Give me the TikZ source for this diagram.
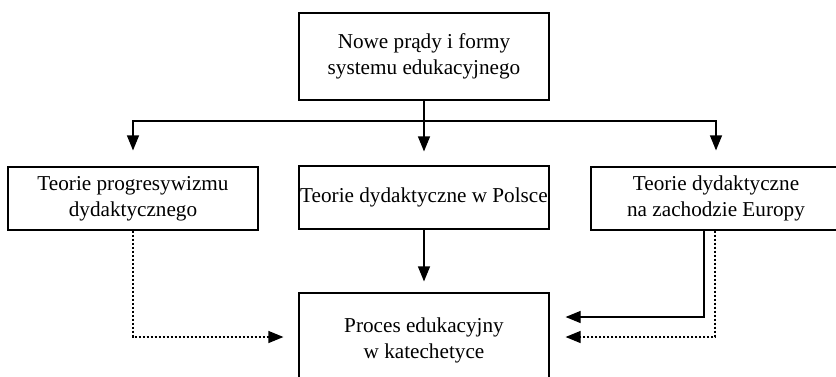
\documentclass[tikz,border=0pt]{standalone}
\usepackage{fontspec}
\setmainfont{Liberation Serif}
\usetikzlibrary{arrows.meta}
\begin{document}
\begin{tikzpicture}[x=1pt,y=-1pt,
  box/.style={draw, line width=1.2pt, minimum width=250pt, inner sep=0pt, align=center,
    font=\fontsize{21.2pt}{26pt}\selectfont},
  arr/.style={line width=1.2pt, -{Triangle[length=15pt,width=12pt]}},
  dotarr/.style={arr, dash pattern=on 2.5pt off 1.5pt}]
\useasboundingbox (0,0) rectangle (836,376);
\clip (0,0) rectangle (836,376);
\node[box, minimum height=87pt] (top) at (424,56.5) {Nowe prądy i formy\\systemu edukacyjnego};
\node[box, minimum height=63pt] (left) at (133,198.5) {Teorie progresywizmu\\dydaktycznego};
\node[box, minimum height=63pt] (mid) at (424,197.5) {Teorie dydaktyczne w Polsce};
\node[box, minimum height=63pt] (right) at (716,198.5) {Teorie dydaktyczne\\na zachodzie Europy};
\node[box, minimum height=94pt] (bot) at (424,340) {Proces edukacyjny\\w katechetyce};
\coordinate (hl) at (424,121);
\draw[arr, shorten >=14pt] (top.south) -- (mid.north);
\draw[arr, shorten >=16pt] (hl) -| (left.north);
\draw[arr, shorten >=16pt] (hl) -| (right.north);
\draw[arr, shorten >=11pt] (mid.south) -- (bot.north);
\draw[dotarr, shorten >=15pt] (left.south) |- ([yshift=3pt]bot.west);
\draw[arr, shorten >=16pt] ([xshift=-12pt]right.south) |- ([yshift=23pt]bot.east);
\draw[dotarr, shorten >=16pt] ([xshift=-1pt]right.south) |- ([yshift=3pt]bot.east);
\end{tikzpicture}
\end{document}
